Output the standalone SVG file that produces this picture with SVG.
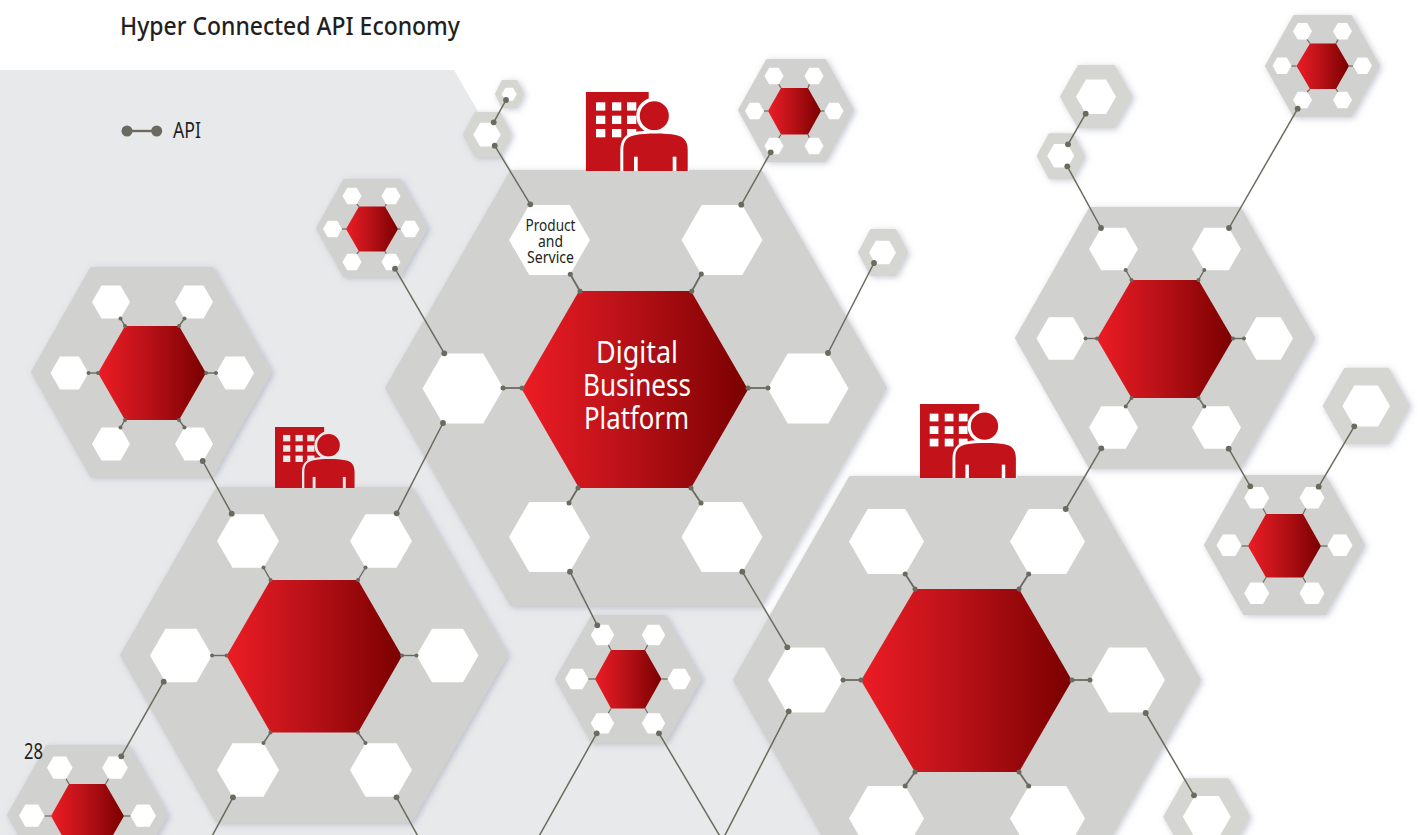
<svg xmlns="http://www.w3.org/2000/svg" width="1421" height="835" viewBox="0 0 1421 835">
<style>
.g{fill:#d1d1cf;stroke:#d1d1cf;stroke-width:2;stroke-linejoin:round;filter:url(#sh)}
.ring{fill:#d5d6d2;stroke:#d5d6d2;stroke-width:2;stroke-linejoin:round;filter:url(#sh)}
.r{fill:url(#red)}
.w{fill:#fff}
.t{font-family:"Noto Sans","Open Sans","Liberation Sans",sans-serif;fill:#231f20}
.tw{font-family:"Noto Sans","Open Sans","Liberation Sans",sans-serif;fill:#fff;font-size:30px;text-anchor:middle}
.tp{font-size:15.5px;text-anchor:middle}
line{stroke:#6a6a5e;fill:none}
.l{stroke-width:1.5;marker-start:url(#dl);marker-end:url(#dl)}
.a{stroke-width:1.8;marker-start:url(#dm);marker-end:url(#dm)}
.e{stroke-width:1.4;marker-start:url(#ds);marker-end:url(#ds)}
.s{stroke-width:1.2}
</style>
<defs>
<linearGradient id="red" x1="0" y1="0" x2="1" y2="0"><stop offset="0" stop-color="#ed1c24"/><stop offset=".4" stop-color="#c0131a"/><stop offset="1" stop-color="#7a0000"/></linearGradient>
<filter id="sh" x="-30%" y="-30%" width="160%" height="160%"><feDropShadow dx="2" dy="1.5" stdDeviation="3" flood-color="#8f94a8" flood-opacity=".5"/></filter>
<marker id="dl" markerUnits="userSpaceOnUse" viewBox="-4 -4 8 8" markerWidth="8" markerHeight="8" refX="0" refY="0"><circle r="2.9" fill="#6a6a5e"/></marker>
<marker id="dm" markerUnits="userSpaceOnUse" viewBox="-4 -4 8 8" markerWidth="8" markerHeight="8" refX="0" refY="0"><circle r="2.5" fill="#6a6a5e"/></marker>
<marker id="ds" markerUnits="userSpaceOnUse" viewBox="-4 -4 8 8" markerWidth="8" markerHeight="8" refX="0" refY="0"><circle r="2" fill="#6a6a5e"/></marker>
<polygon id="h" points="-1,0 -.5,-.866 .5,-.866 1,0 .5,.866 -.5,.866"/>
<clipPath id="ic"><rect x="0" y="0" width="103" height="79"/></clipPath>
<g id="icon" clip-path="url(#ic)">
<rect width="63" height="79" fill="#c4121b"/>
<g fill="currentColor"><rect x="10.3" y="10.3" width="9.3" height="8.3"/><rect x="26.3" y="10.3" width="9.3" height="8.3"/><rect x="41.3" y="10.3" width="9.3" height="8.3"/><rect x="10.3" y="23.7" width="9.3" height="8.3"/><rect x="26.3" y="23.7" width="9.3" height="8.3"/><rect x="41.3" y="23.7" width="9.3" height="8.3"/><rect x="10.3" y="37" width="9.3" height="8.3"/><rect x="26.3" y="37" width="9.3" height="8.3"/><rect x="41.3" y="37" width="9.3" height="8.3"/></g>
<circle cx="68.6" cy="23.7" r="16.3" fill="#c4121b" stroke="currentColor" stroke-width="3.5"/>
<path d="M37.6 85V58C37.6 48 42 44.5 50 43C60 41 80 41 90 43C98 44.5 102 49 102 58V85Z" fill="#c4121b" stroke="currentColor" stroke-width="6" paint-order="stroke"/>
<rect x="48.3" y="64.7" width="3.7" height="15" fill="currentColor"/><rect x="87" y="64.7" width="3.7" height="15" fill="currentColor"/>
</g>
</defs>
<rect width="1421" height="835" fill="#fff"/>
<polygon id="background" points="0,70 454,70 766,610 896,835 0,835" fill="#e8e9eb"/>

<g id="node-e"><polygon class="g" points="32,372 91,268 212,268 271,372 212,476 91,476"/><polygon class="r" points="98,373 125,326 179,326 206,373 179,420 125,420"/>
<use class="w" href="#h" transform="translate(111 302) scale(19)"/><use class="w" href="#h" transform="translate(194 302) scale(19)"/><use class="w" href="#h" transform="translate(69.5 373) scale(19)"/><use class="w" href="#h" transform="translate(235 373) scale(19)"/><use class="w" href="#h" transform="translate(111 444) scale(19)"/><use class="w" href="#h" transform="translate(194 444) scale(19)"/></g>

<g id="node-f"><polygon class="g" points="317,228 344,180 400,180 427,228 400,276 344,276"/><polygon class="r" points="346,229 359,206.5 385,206.5 398,229 385,251.5 359,251.5"/>
<use class="w" href="#h" transform="translate(352 196) scale(9.5)"/><use class="w" href="#h" transform="translate(391 196) scale(9.5)"/><use class="w" href="#h" transform="translate(332.5 229) scale(9.5)"/><use class="w" href="#h" transform="translate(410 229) scale(9.5)"/><use class="w" href="#h" transform="translate(352 262) scale(9.5)"/><use class="w" href="#h" transform="translate(391 262) scale(9.5)"/></g>

<g id="node-a"><polygon class="g" points="386,388 511,171 761,171 886,388 761,605 511,605"/><polygon class="r" points="522,389.5 579,291 691,291 748,389.5 691,488 579,488"/>
<use class="w" href="#h" transform="translate(549.5 240) scale(40.5)"/><use class="w" href="#h" transform="translate(722 240) scale(40.5)"/><use class="w" href="#h" transform="translate(463 388.5) scale(40.5)"/><use class="w" href="#h" transform="translate(808 388.5) scale(40.5)"/><use class="w" href="#h" transform="translate(549.5 537) scale(40.5)"/><use class="w" href="#h" transform="translate(722 537) scale(40.5)"/>
<text class="t tp" x="550.5" y="231" textLength="50" lengthAdjust="spacingAndGlyphs">Product</text><text class="t tp" x="550.5" y="247" textLength="25" lengthAdjust="spacingAndGlyphs">and</text><text class="t tp" x="550.5" y="263" textLength="47" lengthAdjust="spacingAndGlyphs">Service</text>
<text class="tw" x="637" y="363" textLength="82" lengthAdjust="spacingAndGlyphs">Digital</text><text class="tw" x="637" y="396" textLength="108" lengthAdjust="spacingAndGlyphs">Business</text><text class="tw" x="636.5" y="429" textLength="105" lengthAdjust="spacingAndGlyphs">Platform</text></g>

<g id="node-b"><polygon class="g" points="121,655 217,488 411,488 507,655 411,822 217,822"/><polygon class="r" points="226.5,656 270.5,580 358,580 402,656 358,732.5 270.5,732.5"/>
<use class="w" href="#h" transform="translate(248 541) scale(31)"/><use class="w" href="#h" transform="translate(381 541) scale(31)"/><use class="w" href="#h" transform="translate(181 655.5) scale(31)"/><use class="w" href="#h" transform="translate(447.5 655.5) scale(31)"/><use class="w" href="#h" transform="translate(248 770) scale(31)"/><use class="w" href="#h" transform="translate(381 770) scale(31)"/></g>

<g id="node-j"><polygon class="g" points="556,679 592,616 665,616 701,679 665,742 592,742"/><polygon class="r" points="595,679 611,650 645,650 661.5,679 645,708.5 611,708.5"/>
<use class="w" href="#h" transform="translate(602.5 635) scale(11.7)"/><use class="w" href="#h" transform="translate(653.5 635) scale(11.7)"/><use class="w" href="#h" transform="translate(576.7 679) scale(11.7)"/><use class="w" href="#h" transform="translate(679.3 679) scale(11.7)"/><use class="w" href="#h" transform="translate(602.5 723.3) scale(11.7)"/><use class="w" href="#h" transform="translate(653.5 723.3) scale(11.7)"/></g>

<g id="node-k"><polygon class="g" points="8,815 47,746 128,746 167,815 128,884 47,884"/><polygon class="r" points="51,816 69,784 105.5,784 124,816 105.5,848 69,848"/>
<use class="w" href="#h" transform="translate(59.8 767.7) scale(12.8)"/><use class="w" href="#h" transform="translate(115 767.7) scale(12.8)"/><use class="w" href="#h" transform="translate(31.8 815.7) scale(12.8)"/><use class="w" href="#h" transform="translate(143.2 815.7) scale(12.8)"/></g>

<g id="node-c"><polygon class="g" points="734,680 850,477 1084,477 1200,680 1084,883 850,883"/><polygon class="r" points="861,680.5 915,589 1019,589 1072,680.5 1019,772 915,772"/>
<use class="w" href="#h" transform="translate(886.5 541.5) scale(37.5)"/><use class="w" href="#h" transform="translate(1047.5 541.5) scale(37.5)"/><use class="w" href="#h" transform="translate(805.5 680) scale(37.5)"/><use class="w" href="#h" transform="translate(1127.5 680) scale(37.5)"/><use class="w" href="#h" transform="translate(886.5 818.5) scale(37.5)"/><use class="w" href="#h" transform="translate(1047.5 818.5) scale(37.5)"/></g>

<g id="node-d"><polygon class="g" points="1016,338 1090,208 1240,208 1314,338 1240,468 1090,468"/><polygon class="r" points="1097,339 1131.5,280 1198.5,280 1233,339 1198.5,398 1131.5,398"/>
<use class="w" href="#h" transform="translate(1113.5 249) scale(24.5)"/><use class="w" href="#h" transform="translate(1216.5 249) scale(24.5)"/><use class="w" href="#h" transform="translate(1061 338.5) scale(24.5)"/><use class="w" href="#h" transform="translate(1268.5 338.5) scale(24.5)"/><use class="w" href="#h" transform="translate(1113.5 427.5) scale(24.5)"/><use class="w" href="#h" transform="translate(1216.5 427.5) scale(24.5)"/></g>

<g id="node-g"><polygon class="g" points="739,110 767,60 825,60 853,110 825,161 767,161"/><polygon class="r" points="768,111 781,88 808,88 821,111 808,134.5 781,134.5"/>
<use class="w" href="#h" transform="translate(774 76) scale(9.5)"/><use class="w" href="#h" transform="translate(814 76) scale(9.5)"/><use class="w" href="#h" transform="translate(754.5 111) scale(9.5)"/><use class="w" href="#h" transform="translate(834 111) scale(9.5)"/><use class="w" href="#h" transform="translate(774 146) scale(9.5)"/><use class="w" href="#h" transform="translate(814 146) scale(9.5)"/></g>

<g id="node-h"><polygon class="g" points="1266,66 1294,16 1351,16 1379,66 1351,116 1294,116"/><polygon class="r" points="1296.5,66 1310,43.5 1336,43.5 1349,66 1336,89 1310,89"/>
<use class="w" href="#h" transform="translate(1302.5 31.3) scale(9.5)"/><use class="w" href="#h" transform="translate(1342.5 31.3) scale(9.5)"/><use class="w" href="#h" transform="translate(1282 65.7) scale(9.5)"/><use class="w" href="#h" transform="translate(1362.5 65.7) scale(9.5)"/><use class="w" href="#h" transform="translate(1302.5 100) scale(9.5)"/><use class="w" href="#h" transform="translate(1342.5 100) scale(9.5)"/></g>

<g id="node-i"><polygon class="g" points="1205,545 1244,476 1325,476 1364,545 1325,614 1244,614"/><polygon class="r" points="1248,546 1266,514 1303,514 1321,546 1303,577.5 1266,577.5"/>
<use class="w" href="#h" transform="translate(1256.7 497.7) scale(12.5)"/><use class="w" href="#h" transform="translate(1312 497.7) scale(12.5)"/><use class="w" href="#h" transform="translate(1229 545.3) scale(12.5)"/><use class="w" href="#h" transform="translate(1340 545.3) scale(12.5)"/><use class="w" href="#h" transform="translate(1256.7 593.3) scale(12.5)"/><use class="w" href="#h" transform="translate(1312 593.3) scale(12.5)"/></g>

<g id="ring-1"><polygon class="ring" points="496,94 502.5,81 516.5,81 523,94 516.5,107 502.5,107"/><use class="w" href="#h" transform="translate(509.2 94.3) scale(7.5)"/></g>
<g id="ring-2"><polygon class="ring" points="464,134.5 475.5,113 499.5,113 511,134.5 499.5,156 475.5,156"/><use class="w" href="#h" transform="translate(487 134.7) scale(13.7)"/></g>
<g id="ring-3"><polygon class="ring" points="859,252.5 871,230 895,230 907,252.5 895,275 871,275"/><use class="w" href="#h" transform="translate(882.5 252.5) scale(13.5)"/></g>
<g id="ring-4"><polygon class="ring" points="1061,96.7 1078.5,66 1114,66 1131.7,96.7 1114,127.3 1078.5,127.3"/><use class="w" href="#h" transform="translate(1096 96.7) scale(20)"/></g>
<g id="ring-5"><polygon class="ring" points="1037.7,156 1049.5,134.3 1072.5,134.3 1084,156 1072.5,178 1049.5,178"/><use class="w" href="#h" transform="translate(1060.8 155.7) scale(13.5)"/></g>
<g id="ring-6"><polygon class="ring" points="1323.7,406 1345,368.7 1388,368.7 1409,406 1388,443.3 1345,443.3"/><use class="w" href="#h" transform="translate(1366.2 406) scale(23.8)"/></g>
<g id="ring-7"><polygon class="ring" points="1164.3,816.7 1185.5,779.3 1228,779.3 1249,816.7 1228,854 1185.5,854"/><use class="w" href="#h" transform="translate(1206.8 816.7) scale(24)"/></g>

<use id="icon-a" href="#icon" color="#ffffff" transform="translate(585.7 92)"/>
<use id="icon-b" href="#icon" color="#e8e9eb" transform="translate(275 427) scale(.78 .772)"/>
<use id="icon-c" href="#icon" color="#ffffff" transform="translate(920 404) scale(.94 .937)"/>

<g id="connectors">
<line class="l" x1="506" y1="100" x2="493.7" y2="122.3"/>
<line class="l" x1="494.7" y1="145.7" x2="530.3" y2="204.3"/>
<line class="l" x1="395" y1="268.7" x2="444.3" y2="353.3"/>
<line class="l" x1="770.7" y1="152.3" x2="741.3" y2="204.7"/>
<line class="l" x1="874" y1="263" x2="828" y2="353"/>
<line class="l" x1="443" y1="423" x2="396.7" y2="513.3"/>
<line class="l" x1="202.7" y1="461" x2="231.7" y2="513.7"/>
<line class="l" x1="163.7" y1="681.7" x2="121.3" y2="756.3"/>
<line class="l" x1="233" y1="797.3" x2="211" y2="838"/>
<line class="l" x1="396.5" y1="797.3" x2="420" y2="840"/>
<line class="l" x1="570" y1="571.7" x2="597.3" y2="625.3"/>
<line class="l" x1="742.3" y1="571.7" x2="787.3" y2="647.3"/>
<line class="l" x1="596.7" y1="733.3" x2="538" y2="838"/>
<line class="l" x1="659" y1="733.3" x2="721" y2="838"/>
<line class="l" x1="788.7" y1="711.3" x2="723.5" y2="838"/>
<line class="l" x1="1065.7" y1="509" x2="1101.3" y2="448.3"/>
<line class="l" x1="1228.7" y1="448.7" x2="1250.3" y2="486.3"/>
<line class="l" x1="1318.7" y1="486.7" x2="1354.3" y2="426.3"/>
<line class="l" x1="1145.7" y1="713" x2="1194" y2="795.3"/>
<line class="l" x1="1101" y1="228" x2="1067.3" y2="166.3"/>
<line class="l" x1="1068" y1="144.3" x2="1085.7" y2="113.7"/>
<line class="l" x1="1229" y1="228" x2="1297.7" y2="108.7"/>

<line class="a" x1="570.3" y1="274.3" x2="580" y2="291.3"/>
<line class="a" x1="701.3" y1="274" x2="691.7" y2="291.3"/>
<line class="a" x1="503" y1="388" x2="522" y2="388"/>
<line class="a" x1="748" y1="388" x2="768" y2="388"/>
<line class="a" x1="569" y1="503" x2="578" y2="488"/>
<line class="a" x1="701" y1="503" x2="691" y2="488"/>

<line class="e" x1="263.5" y1="567.5" x2="270.5" y2="580"/>
<line class="e" x1="365.5" y1="567.5" x2="358" y2="580"/>
<line class="e" x1="212" y1="655.5" x2="226.5" y2="655.5"/>
<line class="e" x1="402" y1="655.5" x2="416.5" y2="655.5"/>
<line class="e" x1="263.5" y1="743" x2="270.5" y2="732.5"/>
<line class="e" x1="365.5" y1="743" x2="358" y2="732.5"/>

<line class="a" x1="905.2" y1="574" x2="915" y2="589"/>
<line class="a" x1="1028.7" y1="574" x2="1019" y2="589"/>
<line class="a" x1="843" y1="680" x2="861" y2="680"/>
<line class="a" x1="1072" y1="680" x2="1090" y2="680"/>
<line class="a" x1="905.2" y1="786" x2="915" y2="772"/>
<line class="a" x1="1028.7" y1="786" x2="1019" y2="772"/>

<line class="e" x1="1125.7" y1="270" x2="1131.5" y2="280"/>
<line class="e" x1="1204.3" y1="270" x2="1198.5" y2="280"/>
<line class="e" x1="1085.5" y1="338.5" x2="1097" y2="338.5"/>
<line class="e" x1="1233" y1="338.5" x2="1244" y2="338.5"/>
<line class="e" x1="1125.7" y1="406.5" x2="1131.5" y2="398"/>
<line class="e" x1="1204.3" y1="406.5" x2="1198.5" y2="398"/>

<line class="e" x1="120.5" y1="318.5" x2="125" y2="326"/>
<line class="e" x1="184.5" y1="318.5" x2="179" y2="326"/>
<line class="e" x1="88.5" y1="373" x2="98" y2="373"/>
<line class="e" x1="206" y1="373" x2="216" y2="373"/>
<line class="e" x1="120.5" y1="427.5" x2="125" y2="420"/>
<line class="e" x1="184.5" y1="427.5" x2="179" y2="420"/>

<line class="s" x1="356.7" y1="204.2" x2="359" y2="206.5"/>
<line class="s" x1="386.3" y1="204.2" x2="385" y2="206.5"/>
<line class="s" x1="342" y1="229" x2="346" y2="229"/>
<line class="s" x1="398" y1="229" x2="400.5" y2="229"/>
<line class="s" x1="356.7" y1="253.8" x2="359" y2="251.5"/>
<line class="s" x1="386.3" y1="253.8" x2="385" y2="251.5"/>

<line class="s" x1="778.7" y1="84.2" x2="781" y2="88"/>
<line class="s" x1="809.3" y1="84.2" x2="808" y2="88"/>
<line class="s" x1="764" y1="111" x2="768" y2="111"/>
<line class="s" x1="821" y1="111" x2="824.5" y2="111"/>
<line class="s" x1="778.7" y1="137.8" x2="781" y2="134.5"/>
<line class="s" x1="809.3" y1="137.8" x2="808" y2="134.5"/>

<line class="s" x1="1307" y1="39.5" x2="1310" y2="43.5"/>
<line class="s" x1="1338" y1="39.5" x2="1336" y2="43.5"/>
<line class="s" x1="1291.5" y1="66" x2="1296.5" y2="66"/>
<line class="s" x1="1349" y1="66" x2="1353" y2="66"/>
<line class="s" x1="1307" y1="92" x2="1310" y2="89"/>
<line class="s" x1="1338" y1="92" x2="1336" y2="89"/>

<line class="s" x1="1263" y1="508.5" x2="1266" y2="514"/>
<line class="s" x1="1305.7" y1="508.5" x2="1303" y2="514"/>
<line class="s" x1="1241.5" y1="546" x2="1248" y2="546"/>
<line class="s" x1="1321" y1="546" x2="1327.5" y2="546"/>
<line class="s" x1="1263" y1="582.5" x2="1266" y2="577.5"/>
<line class="s" x1="1305.7" y1="582.5" x2="1303" y2="577.5"/>

<line class="s" x1="608.3" y1="645" x2="611" y2="650"/>
<line class="s" x1="647.7" y1="645" x2="645" y2="650"/>
<line class="s" x1="588.4" y1="679" x2="595" y2="679"/>
<line class="s" x1="661.5" y1="679" x2="667.6" y2="679"/>
<line class="s" x1="608.3" y1="713" x2="611" y2="708.5"/>
<line class="s" x1="647.7" y1="713" x2="645" y2="708.5"/>

<line class="s" x1="66" y1="778.7" x2="69" y2="784"/>
<line class="s" x1="108.6" y1="778.7" x2="105.5" y2="784"/>
<line class="s" x1="44.6" y1="816" x2="51" y2="816"/>
<line class="s" x1="124" y1="816" x2="130.4" y2="816"/>
</g>

<g id="legend"><line x1="127" y1="131" x2="156.7" y2="131" stroke-width="2.4"/><circle cx="127" cy="131" r="5.5" fill="#6a6a5e"/><circle cx="156.7" cy="131" r="5.5" fill="#6a6a5e"/><text class="t" x="173" y="138" font-size="21" textLength="28" lengthAdjust="spacingAndGlyphs">API</text></g>
<text class="t" x="120" y="35" font-size="25.5" font-weight="500" textLength="340" lengthAdjust="spacingAndGlyphs">Hyper Connected API Economy</text>
<text class="t" x="24" y="759" font-size="21" textLength="19" lengthAdjust="spacingAndGlyphs">28</text>
</svg>
